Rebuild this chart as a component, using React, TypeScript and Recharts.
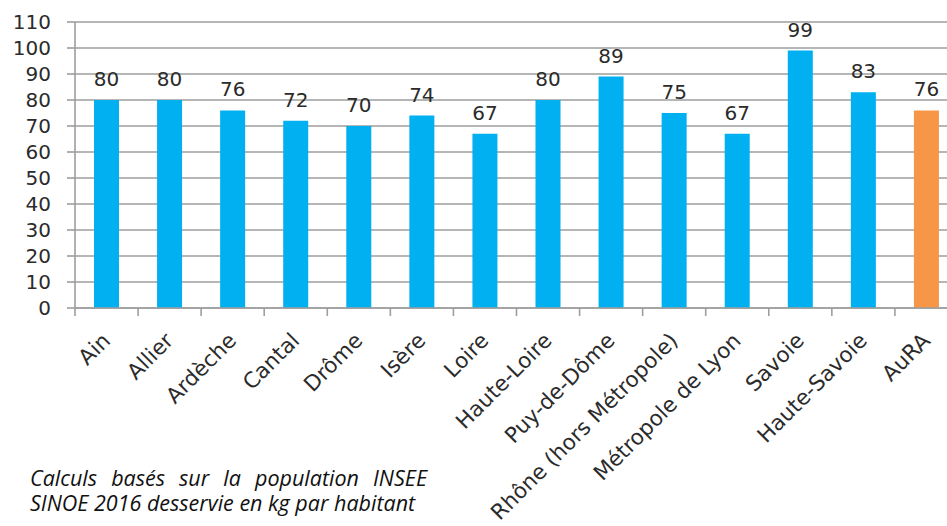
import React from "react";
import { BarChart, Bar, XAxis, YAxis, CartesianGrid, LabelList, Cell } from "recharts";

const categories = [
  "Ain",
  "Allier",
  "Ardèche",
  "Cantal",
  "Drôme",
  "Isère",
  "Loire",
  "Haute-Loire",
  "Puy-de-Dôme",
  "Rhône (hors Métropole)",
  "Métropole de Lyon",
  "Savoie",
  "Haute-Savoie",
  "AuRA",
];
const values = [80, 80, 76, 72, 70, 74, 67, 80, 89, 75, 67, 99, 83, 76];
const barColors = [
  "#00B0F0", "#00B0F0", "#00B0F0", "#00B0F0", "#00B0F0", "#00B0F0", "#00B0F0",
  "#00B0F0", "#00B0F0", "#00B0F0", "#00B0F0", "#00B0F0", "#00B0F0", "#F79646",
];
const yTicks = [0, 10, 20, 30, 40, 50, 60, 70, 80, 90, 100, 110];
const noteLine1 = "Calculs basés sur la population INSEE";
const noteLine2 = "SINOE 2016 desservie en kg par habitant";

const data = categories.map((name, i) => ({ name, value: values[i] }));

const GRID = "#9e9e9e";
const TEXT = "#2b2b2b";

const XTick = (props: any) => {
  const { x, y, payload } = props;
  const half = payload && typeof payload.offset === "number" ? payload.offset : 31.5;
  const tx = x + 5;
  const ty = y + 34;
  return (
    <g>
      <line x1={x - half} y1={y} x2={x - half} y2={y + 8} stroke={GRID} strokeWidth={1.6} />
      <text
        x={tx}
        y={ty}
        transform={`rotate(-45 ${tx} ${ty})`}
        textAnchor="end"
        fontSize={21.5}
        fill={TEXT}
        fontFamily='"DejaVu Sans", sans-serif'
      >
        {payload.value}
      </text>
    </g>
  );
};

export default function App() {
  return (
    <div style={{ position: "relative", width: 947, height: 526, overflow: "hidden", background: "#fff" }}>
      <style>{`body{margin:0;background:#fff;}`}</style>
      <BarChart
        width={958}
        height={526}
        data={data}
        margin={{ top: 22, right: 0, bottom: 0, left: 0 }}
        style={{ fontFamily: '"DejaVu Sans", sans-serif' }}
      >
        <CartesianGrid vertical={false} stroke={GRID} strokeWidth={1.6} />
        <YAxis
          width={75}
          domain={[0, 110]}
          ticks={yTicks}
          interval={0}
          tickSize={8}
          tickMargin={16}
          axisLine={{ stroke: GRID, strokeWidth: 1.6 }}
          tickLine={{ stroke: GRID, strokeWidth: 1.6 }}
          tick={{ fill: TEXT, fontSize: 20 }}
        />
        <XAxis
          dataKey="name"
          interval={0}
          tickSize={0}
          tickMargin={0}
          tickLine={false}
          axisLine={{ stroke: GRID, strokeWidth: 1.6 }}
          tick={<XTick />}
          height={218}
        />
        <Bar dataKey="value" barSize={25} isAnimationActive={false}>
          {data.map((d, i) => (
            <Cell key={d.name} fill={barColors[i]} />
          ))}
          <LabelList dataKey="value" position="top" offset={14} fill={TEXT} fontSize={20} />
        </Bar>
      </BarChart>
      <div
        style={{
          position: "absolute",
          left: 30,
          top: 465,
          fontFamily: '"Open Sans", sans-serif',
          fontStyle: "italic",
          fontSize: 21.5,
          lineHeight: "25px",
          color: "#111",
        }}
      >
        <span style={{ display: "block", width: 397, textAlign: "justify", textAlignLast: "justify" }}>
          {noteLine1}
        </span>
        <div style={{ whiteSpace: "nowrap" }}>{noteLine2}</div>
      </div>
    </div>
  );
}
